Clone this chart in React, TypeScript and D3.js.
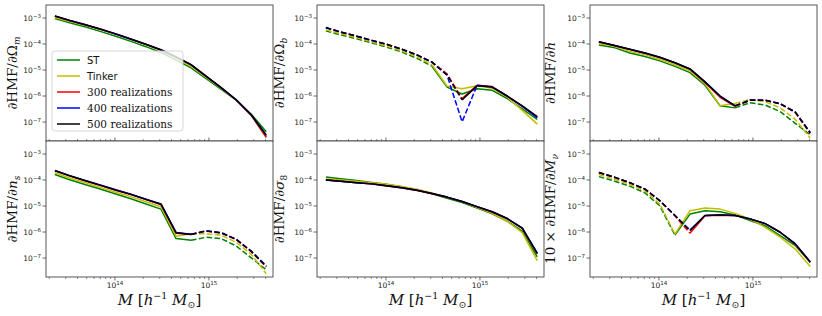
import React, { useEffect, useRef } from "react";
import * as d3 from "d3";

// halo mass bins [h^-1 Msun]
const mass = [2.3e13, 3.3e13, 4.9e13, 7.1e13, 1.02e14, 1.48e14, 2.14e14, 3.09e14, 4.47e14, 6.46e14, 9.33e14, 1.35e15, 1.95e15, 2.82e15, 4.07e15];

// negative values = negative derivative (drawn dashed, as |value|)
const dOmegaM = {
  st: [9.5e-4, 6.6e-4, 4.5e-4, 3.0e-4, 2.0e-4, 1.26e-4, 7.9e-5, 4.7e-5, 2.4e-5, 1.2e-5, 4.7e-6, 1.8e-6, 6.9e-7, 2.0e-7, 4.2e-8],
  tinker: [1.05e-3, 7.4e-4, 5.1e-4, 3.55e-4, 2.4e-4, 1.5e-4, 9.3e-5, 5.5e-5, 2.8e-5, 1.38e-5, 5.2e-6, 1.95e-6, 6.8e-7, 1.8e-7, 2.5e-8],
  r300: [1.19e-3, 8.05e-4, 5.45e-4, 3.68e-4, 2.44e-4, 1.54e-4, 9.7e-5, 5.95e-5, 3.18e-5, 1.59e-5, 5.75e-6, 2.08e-6, 7.0e-7, 1.8e-7, 2.6e-8],
  r400: [1.18e-3, 8.0e-4, 5.4e-4, 3.65e-4, 2.42e-4, 1.53e-4, 9.7e-5, 5.9e-5, 3.15e-5, 1.58e-5, 5.7e-6, 2.05e-6, 7.1e-7, 1.85e-7, 3.0e-8],
  r500: [1.2e-3, 8.1e-4, 5.5e-4, 3.7e-4, 2.45e-4, 1.55e-4, 9.8e-5, 6.0e-5, 3.2e-5, 1.6e-5, 5.8e-6, 2.1e-6, 7.2e-7, 1.9e-7, 3.2e-8],
};

const dOmegaB = {
  st: [-3.2e-4, -2.24e-4, -1.58e-4, -1.1e-4, -7.6e-5, -4.9e-5, -2.8e-5, -1.4e-5, 2.2e-6, 1.2e-6, 1.9e-6, 1.65e-6, 8e-7, 3.2e-7, 1.25e-7],
  tinker: [-3.5e-4, -2.5e-4, -1.74e-4, -1.2e-4, -8.3e-5, -5.4e-5, -3.2e-5, -1.6e-5, 2.4e-6, 1.9e-6, 2.5e-6, 2.0e-6, 9e-7, 2.8e-7, 8.3e-8],
  r300: [-4.2e-4, -2.85e-4, -1.98e-4, -1.36e-4, -9.6e-5, -6.2e-5, -3.75e-5, -2.0e-5, -7.1e-6, -7.9e-7, 2.6e-6, 2.3e-6, 1.0e-6, 4.1e-7, 1.55e-7],
  r400: [-4.25e-4, -2.88e-4, -1.99e-4, -1.37e-4, -9.7e-5, -6.25e-5, -3.8e-5, -2.0e-5, -6.3e-6, -1.02e-7, -2.6e-6, 2.2e-6, 1.0e-6, 4.0e-7, 1.45e-7],
  r500: [-4.3e-4, -2.9e-4, -2.0e-4, -1.38e-4, -9.8e-5, -6.3e-5, -3.8e-5, -2.0e-5, -6.5e-6, -7.1e-7, 2.5e-6, 2.2e-6, 1.0e-6, 4.2e-7, 1.6e-7],
};

const dH = {
  st: [9.1e-5, 7.4e-5, 4.5e-5, 3.3e-5, 2.24e-5, 1.38e-5, 7.9e-6, 2.6e-6, 4.2e-7, 3.5e-7, -5.5e-7, -4.5e-7, -2.5e-7, -8.9e-8, -3.2e-8],
  tinker: [1.05e-4, 8.3e-5, 5.2e-5, 3.9e-5, 2.6e-5, 1.6e-5, 9.3e-6, 3.0e-6, 4.2e-7, 5.2e-7, -7.4e-7, -6.0e-7, -3.5e-7, -1.26e-7, -2.4e-8],
  r300: [1.2e-4, 8.8e-5, 6.2e-5, 4.45e-5, 3.05e-5, 1.88e-5, 1.08e-5, 3.3e-6, 8.9e-7, 4.0e-7, -6.9e-7, -6.9e-7, -5.0e-7, -2.3e-7, -3.6e-8],
  r400: [1.22e-4, 8.9e-5, 6.3e-5, 4.5e-5, 3.1e-5, 1.9e-5, 1.1e-5, 3.5e-6, 1.0e-6, 4.2e-7, -7.0e-7, -6.9e-7, -5.1e-7, -2.45e-7, -4.0e-8],
  r500: [1.23e-4, 8.9e-5, 6.3e-5, 4.5e-5, 3.1e-5, 1.9e-5, 1.1e-5, 3.5e-6, 1.0e-6, 4.2e-7, -6.8e-7, -6.8e-7, -5.0e-7, -2.4e-7, -3.8e-8],
};

const dNs = {
  st: [1.62e-4, 1.02e-4, 6.6e-5, 4.4e-5, 2.9e-5, 1.9e-5, 1.2e-5, 7.6e-6, 5.6e-7, 4.8e-7, -6.3e-7, -5.6e-7, -2.9e-7, -1.02e-7, -3.5e-8],
  tinker: [1.9e-4, 1.2e-4, 7.8e-5, 5.1e-5, 3.4e-5, 2.3e-5, 1.45e-5, 9.3e-6, 6.9e-7, 8.5e-7, -8.5e-7, -7.6e-7, -4.0e-7, -1.38e-7, -2.5e-8],
  r300: [2.28e-4, 1.44e-4, 9.2e-5, 6.1e-5, 4.05e-5, 2.75e-5, 1.78e-5, 1.15e-5, 9.0e-7, 8.0e-7, -1.08e-6, -9.2e-7, -5.1e-7, -1.75e-7, -4.5e-8],
  r400: [2.32e-4, 1.47e-4, 9.4e-5, 6.3e-5, 4.2e-5, 2.85e-5, 1.82e-5, 1.2e-5, 9.6e-7, 8.2e-7, -1.12e-6, -9.5e-7, -5.3e-7, -1.85e-7, -5.0e-8],
  r500: [2.3e-4, 1.45e-4, 9.3e-5, 6.2e-5, 4.1e-5, 2.8e-5, 1.8e-5, 1.17e-5, 9.3e-7, 8.1e-7, -1.1e-6, -9.3e-7, -5.2e-7, -1.8e-7, -4.8e-8],
};

const dSigma8 = {
  st: [1.3e-4, 1.12e-4, 9.5e-5, 8.1e-5, 6.8e-5, 5.4e-5, 4.1e-5, 2.95e-5, 2.0e-5, 1.35e-5, 8.3e-6, 5.0e-6, 2.6e-6, 1.07e-6, 1.1e-7],
  tinker: [1.1e-4, 1.0e-4, 8.9e-5, 7.9e-5, 6.8e-5, 5.6e-5, 4.4e-5, 3.2e-5, 2.2e-5, 1.48e-5, 8.9e-6, 5.2e-6, 2.6e-6, 9.5e-7, 7.9e-8],
  r300: [1.0e-4, 8.9e-5, 7.9e-5, 7.0e-5, 5.9e-5, 4.9e-5, 3.95e-5, 2.95e-5, 2.15e-5, 1.48e-5, 9.4e-6, 5.9e-6, 3.25e-6, 1.38e-6, 1.45e-7],
  r400: [1.0e-4, 8.9e-5, 7.9e-5, 7.1e-5, 6.0e-5, 5.0e-5, 4.0e-5, 3.0e-5, 2.2e-5, 1.5e-5, 9.5e-6, 6.0e-6, 3.3e-6, 1.4e-6, 1.55e-7],
  r500: [1.0e-4, 8.9e-5, 7.9e-5, 7.1e-5, 6.0e-5, 5.0e-5, 4.0e-5, 3.0e-5, 2.2e-5, 1.5e-5, 9.5e-6, 6.0e-6, 3.3e-6, 1.4e-6, 1.5e-7],
};

const dMnu = {
  st: [-1.35e-4, -9.3e-5, -5.8e-5, -3.2e-5, -1.02e-5, -7.6e-7, 4.9e-6, 6.6e-6, 6.0e-6, 4.5e-6, 2.75e-6, 1.74e-6, 7.2e-7, 3.0e-7, 6.8e-8],
  tinker: [-1.62e-4, -1.1e-4, -6.8e-5, -3.8e-5, -1.2e-5, -8.3e-7, 6.6e-6, 8.3e-6, 7.6e-6, 5.2e-6, 3.2e-6, 1.5e-6, 6.3e-7, 2.2e-7, 4.7e-8],
  r300: [-1.9e-4, -1.3e-4, -7.8e-5, -4.4e-5, -1.6e-5, -4.2e-6, -8.9e-7, 4.2e-6, 4.4e-6, 4.3e-6, 3.2e-6, 2.1e-6, 9.6e-7, 3.4e-7, 6.8e-8],
  r400: [-1.93e-4, -1.31e-4, -7.9e-5, -4.5e-5, -1.62e-5, -4.4e-6, -1.18e-6, 4.3e-6, 4.5e-6, 4.3e-6, 3.2e-6, 2.1e-6, 9.8e-7, 3.5e-7, 7.0e-8],
  r500: [-1.95e-4, -1.32e-4, -7.9e-5, -4.5e-5, -1.62e-5, -4.3e-6, -1.12e-6, 4.3e-6, 4.5e-6, 4.3e-6, 3.2e-6, 2.1e-6, 9.8e-7, 3.5e-7, 7.1e-8],
};

const seriesKeys = ["st", "tinker", "r300", "r400", "r500"];
const seriesNames = ["ST", "Tinker", "300 realizations", "400 realizations", "500 realizations"];
const seriesColors = ["#008000", "#bfbf00", "#ff0000", "#0000ff", "#000000"];

const xTickExp = [14, 15];
const yTickExp = [-7, -6, -5, -4, -3];

// y-label pieces: [text, kind]  kind: "" normal, "i" italic, "sub" italic subscript, "subr" upright subscript
const panels = [
  { data: dOmegaM, row: 0, col: 0, label: [["∂HMF", ""], ["/∂Ω", ""], ["m", "sub"]] },
  { data: dOmegaB, row: 0, col: 1, label: [["∂HMF", ""], ["/∂Ω", ""], ["b", "sub"]] },
  { data: dH, row: 0, col: 2, label: [["∂HMF", ""], ["/∂", ""], ["h", "i"]] },
  { data: dNs, row: 1, col: 0, label: [["∂HMF", ""], ["/∂", ""], ["n", "i"], ["s", "sub"]] },
  { data: dSigma8, row: 1, col: 1, label: [["∂HMF", ""], ["/∂", ""], ["σ", "i"], ["8", "subr"]] },
  { data: dMnu, row: 1, col: 2, label: [["10 × ∂HMF", ""], ["/∂", ""], ["M", "i"], ["ν", "sub"]] },
];

const W = 822, H = 316;
const colLeft = [46, 317, 590];
const colW = 227;
const rowTop = [5, 141];
const rowH = 136;
const ylabX = [17, 284, 555];
const xDomain = [1.85e13, 4.8e15];
const yDomain = [Math.pow(10, -7.73), Math.pow(10, -2.5)];

const serif = "'DejaVu Serif', serif";
const sans = "'DejaVu Sans', sans-serif";

// split a signed series into runs; a segment takes the sign of its end point
function runs(vals: number[]) {
  const out: { dashed: boolean; idx: number[] }[] = [];
  let cur: { dashed: boolean; idx: number[] } | null = null;
  for (let i = 0; i < vals.length - 1; i++) {
    const dashed = vals[i + 1] < 0;
    if (!cur || cur.dashed !== dashed) {
      cur = { dashed, idx: [i] };
      out.push(cur);
    }
    cur.idx.push(i + 1);
  }
  return out;
}

function powLabel(sel: any, exp: number) {
  sel.append("tspan").text("10");
  sel.append("tspan").attr("dy", -3.5).attr("font-size", 5.5)
    .text(exp < 0 ? "\u2212" + Math.abs(exp) : String(exp));
}

export default function App() {
  const ref = useRef<SVGSVGElement>(null);

  useEffect(() => {
    document.body.style.margin = "0";
    const svg = d3.select(ref.current);
    svg.selectAll("*").remove();

    panels.forEach((p, pi) => {
      const x0 = colLeft[p.col], y0 = rowTop[p.row];
      const x = d3.scaleLog().domain(xDomain).range([x0, x0 + colW]);
      const y = d3.scaleLog().domain(yDomain).range([y0 + rowH, y0]);
      const g = svg.append("g");

      g.append("rect").attr("x", x0).attr("y", y0).attr("width", colW).attr("height", rowH).attr("fill", "#fff");

      const clipId = "clip" + pi;
      g.append("clipPath").attr("id", clipId)
        .append("rect").attr("x", x0).attr("y", y0).attr("width", colW).attr("height", rowH);

      const lines = g.append("g").attr("clip-path", `url(#${clipId})`);
      seriesKeys.forEach((k, si) => {
        const vals: number[] = (p.data as any)[k];
        runs(vals).forEach(r => {
          const line = d3.line<number>()
            .x(i => x(mass[i]))
            .y(i => y(Math.abs(vals[i])));
          lines.append("path")
            .attr("d", line(r.idx))
            .attr("fill", "none")
            .attr("stroke", seriesColors[si])
            .attr("stroke-width", 1.5)
            .attr("stroke-linejoin", "round")
            .attr("stroke-dasharray", r.dashed ? "5.5,2.4" : null);
        });
      });

      // frame
      g.append("rect").attr("x", x0).attr("y", y0).attr("width", colW).attr("height", rowH)
        .attr("fill", "none").attr("stroke", "#444").attr("stroke-width", 0.9);

      // y ticks
      yTickExp.forEach(e => {
        const yy = y(Math.pow(10, e));
        g.append("line").attr("x1", x0 - 3.5).attr("x2", x0).attr("y1", yy).attr("y2", yy)
          .attr("stroke", "#444").attr("stroke-width", 0.8);
        const t = g.append("text").attr("x", x0 - 5).attr("y", yy + 3)
          .attr("text-anchor", "end").attr("font-family", sans).attr("font-size", 7.5).attr("fill", "#222");
        powLabel(t, e);
      });

      // x ticks (major + minor)
      const yb = y0 + rowH;
      const dir = p.row === 1 ? 1 : -1;
      const minor: number[] = [];
      [13, 14, 15].forEach(e => d3.range(2, 10).forEach(m => {
        const v = m * Math.pow(10, e);
        if (v > xDomain[0] && v < xDomain[1]) minor.push(v);
      }));
      minor.forEach(v => {
        g.append("line").attr("x1", x(v)).attr("x2", x(v)).attr("y1", yb).attr("y2", yb + dir * 2)
          .attr("stroke", "#444").attr("stroke-width", 0.6);
      });
      xTickExp.forEach(e => {
        const xx = x(Math.pow(10, e));
        g.append("line").attr("x1", xx).attr("x2", xx).attr("y1", yb).attr("y2", yb + dir * 3.5)
          .attr("stroke", "#444").attr("stroke-width", 0.8);
        if (p.row === 1) {
          const t = g.append("text").attr("x", xx).attr("y", yb + 11)
            .attr("text-anchor", "middle").attr("font-family", sans).attr("font-size", 7.5).attr("fill", "#222");
          powLabel(t, e);
        }
      });

      // y label
      const cy = y0 + rowH / 2;
      const yl = g.append("text")
        .attr("transform", `translate(${ylabX[p.col]},${cy}) rotate(-90)`)
        .attr("text-anchor", "middle").attr("font-family", serif).attr("font-size", 13.5).attr("fill", "#111");
      p.label.forEach(([txt, kind]) => {
        const ts = yl.append("tspan").text(txt);
        if (kind === "i") ts.attr("font-style", "italic");
        if (kind === "sub") ts.attr("font-size", 9).attr("font-style", "italic").attr("dy", 3);
        if (kind === "subr") ts.attr("font-size", 9).attr("dy", 3);
      });

      // x label
      if (p.row === 1) {
        const xl = g.append("text").attr("x", x0 + colW / 2).attr("y", 305)
          .attr("text-anchor", "middle").attr("font-family", serif).attr("font-size", 15).attr("fill", "#111");
        xl.append("tspan").attr("font-style", "italic").text("M");
        xl.append("tspan").text(" [");
        xl.append("tspan").attr("font-style", "italic").text("h");
        xl.append("tspan").attr("font-size", 9.5).attr("dy", -6).text("\u22121");
        xl.append("tspan").attr("font-style", "italic").attr("dy", 6).text(" M");
        xl.append("tspan").attr("font-size", 9.5).attr("dy", 3).text("\u2299");
        xl.append("tspan").attr("dy", -3).text("]");
      }
    });

    // legend in first panel
    const lg = svg.append("g");
    lg.append("rect").attr("x", 52).attr("y", 51).attr("width", 131).attr("height", 80).attr("rx", 3)
      .attr("fill", "#fff").attr("fill-opacity", 0.8).attr("stroke", "#ccc").attr("stroke-width", 0.8);
    seriesNames.forEach((name, i) => {
      const yy = 60 + i * 16;
      lg.append("line").attr("x1", 57).attr("x2", 80).attr("y1", yy).attr("y2", yy)
        .attr("stroke", seriesColors[i]).attr("stroke-width", 1.5);
      lg.append("text").attr("x", 87).attr("y", yy + 3.5)
        .attr("font-family", i < 2 ? sans : serif).attr("font-size", i < 2 ? 10 : 10.5).attr("fill", "#111")
        .text(name);
    });
  }, []);

  return <svg ref={ref} width={W} height={H} style={{ display: "block", background: "#fff" }} />;
}
